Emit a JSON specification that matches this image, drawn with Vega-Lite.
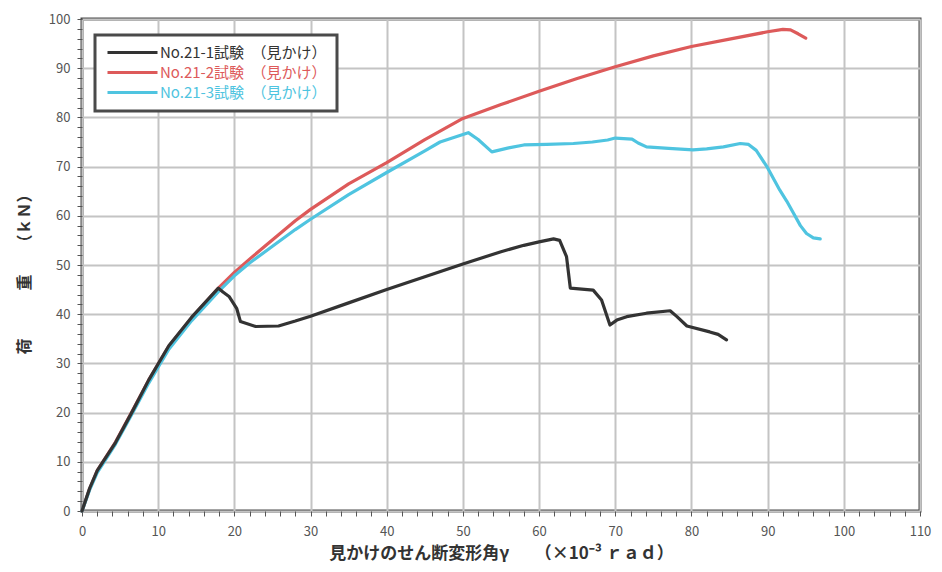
{
  "$schema": "https://vega.github.io/schema/vega-lite/v6.json",
  "width": 838,
  "height": 492,
  "autosize": {"type": "none"},
  "padding": {"left": 82, "top": 19, "right": 22, "bottom": 61},
  "background": "white",
  "config": {
    "font": "Noto Sans CJK JP",
    "view": {"stroke": "#4a4a4a", "strokeWidth": 3},
    "legend": {"strokeWidth": 3}
  },
  "data": {
    "values": [
      {"s": "No.21-2試験　（見かけ）", "x": 0, "y": 0},
      {"s": "No.21-2試験　（見かけ）", "x": 1, "y": 4.5},
      {"s": "No.21-2試験　（見かけ）", "x": 2, "y": 8.2},
      {"s": "No.21-2試験　（見かけ）", "x": 4.4, "y": 14},
      {"s": "No.21-2試験　（見かけ）", "x": 6.6, "y": 20.3},
      {"s": "No.21-2試験　（見かけ）", "x": 8.75, "y": 26.6},
      {"s": "No.21-2試験　（見かけ）", "x": 11.4, "y": 33.5},
      {"s": "No.21-2試験　（見かけ）", "x": 14.4, "y": 39.3},
      {"s": "No.21-2試験　（見かけ）", "x": 17.9, "y": 45.3},
      {"s": "No.21-2試験　（見かけ）", "x": 20, "y": 48.5},
      {"s": "No.21-2試験　（見かけ）", "x": 22, "y": 51.2},
      {"s": "No.21-2試験　（見かけ）", "x": 24, "y": 53.8},
      {"s": "No.21-2試験　（見かけ）", "x": 26, "y": 56.4},
      {"s": "No.21-2試験　（見かけ）", "x": 28, "y": 59},
      {"s": "No.21-2試験　（見かけ）", "x": 30, "y": 61.3},
      {"s": "No.21-2試験　（見かけ）", "x": 35, "y": 66.5},
      {"s": "No.21-2試験　（見かけ）", "x": 40, "y": 70.8},
      {"s": "No.21-2試験　（見かけ）", "x": 45, "y": 75.5},
      {"s": "No.21-2試験　（見かけ）", "x": 50, "y": 79.8},
      {"s": "No.21-2試験　（見かけ）", "x": 55, "y": 82.6},
      {"s": "No.21-2試験　（見かけ）", "x": 60, "y": 85.3},
      {"s": "No.21-2試験　（見かけ）", "x": 65, "y": 87.9},
      {"s": "No.21-2試験　（見かけ）", "x": 70, "y": 90.3},
      {"s": "No.21-2試験　（見かけ）", "x": 75, "y": 92.5},
      {"s": "No.21-2試験　（見かけ）", "x": 80, "y": 94.4},
      {"s": "No.21-2試験　（見かけ）", "x": 85, "y": 95.9},
      {"s": "No.21-2試験　（見かけ）", "x": 90, "y": 97.4},
      {"s": "No.21-2試験　（見かけ）", "x": 92, "y": 97.9},
      {"s": "No.21-2試験　（見かけ）", "x": 93, "y": 97.8},
      {"s": "No.21-2試験　（見かけ）", "x": 94, "y": 97},
      {"s": "No.21-2試験　（見かけ）", "x": 95, "y": 96.1},

      {"s": "No.21-3試験　（見かけ）", "x": 0, "y": 0},
      {"s": "No.21-3試験　（見かけ）", "x": 1, "y": 4.3},
      {"s": "No.21-3試験　（見かけ）", "x": 2, "y": 7.8},
      {"s": "No.21-3試験　（見かけ）", "x": 4.4, "y": 13.6},
      {"s": "No.21-3試験　（見かけ）", "x": 6.6, "y": 19.8},
      {"s": "No.21-3試験　（見かけ）", "x": 8.75, "y": 26},
      {"s": "No.21-3試験　（見かけ）", "x": 11.4, "y": 32.9},
      {"s": "No.21-3試験　（見かけ）", "x": 14.4, "y": 38.7},
      {"s": "No.21-3試験　（見かけ）", "x": 17.9, "y": 44.6},
      {"s": "No.21-3試験　（見かけ）", "x": 20, "y": 47.8},
      {"s": "No.21-3試験　（見かけ）", "x": 22, "y": 50.4},
      {"s": "No.21-3試験　（見かけ）", "x": 25, "y": 53.8},
      {"s": "No.21-3試験　（見かけ）", "x": 28, "y": 57.2},
      {"s": "No.21-3試験　（見かけ）", "x": 30, "y": 59.3},
      {"s": "No.21-3試験　（見かけ）", "x": 35, "y": 64.3},
      {"s": "No.21-3試験　（見かけ）", "x": 40, "y": 68.8},
      {"s": "No.21-3試験　（見かけ）", "x": 45, "y": 73.2},
      {"s": "No.21-3試験　（見かけ）", "x": 47, "y": 75},
      {"s": "No.21-3試験　（見かけ）", "x": 50.7, "y": 76.9},
      {"s": "No.21-3試験　（見かけ）", "x": 52, "y": 75.5},
      {"s": "No.21-3試験　（見かけ）", "x": 53.8, "y": 73},
      {"s": "No.21-3試験　（見かけ）", "x": 56, "y": 73.8},
      {"s": "No.21-3試験　（見かけ）", "x": 58, "y": 74.4},
      {"s": "No.21-3試験　（見かけ）", "x": 61, "y": 74.5},
      {"s": "No.21-3試験　（見かけ）", "x": 64.5, "y": 74.7},
      {"s": "No.21-3試験　（見かけ）", "x": 67, "y": 75},
      {"s": "No.21-3試験　（見かけ）", "x": 69, "y": 75.4},
      {"s": "No.21-3試験　（見かけ）", "x": 70, "y": 75.8},
      {"s": "No.21-3試験　（見かけ）", "x": 72.2, "y": 75.6},
      {"s": "No.21-3試験　（見かけ）", "x": 73, "y": 74.8},
      {"s": "No.21-3試験　（見かけ）", "x": 74.1, "y": 74},
      {"s": "No.21-3試験　（見かけ）", "x": 77, "y": 73.7},
      {"s": "No.21-3試験　（見かけ）", "x": 80.2, "y": 73.4},
      {"s": "No.21-3試験　（見かけ）", "x": 82, "y": 73.6},
      {"s": "No.21-3試験　（見かけ）", "x": 84.2, "y": 74},
      {"s": "No.21-3試験　（見かけ）", "x": 86.4, "y": 74.7},
      {"s": "No.21-3試験　（見かけ）", "x": 87.5, "y": 74.5},
      {"s": "No.21-3試験　（見かけ）", "x": 88.5, "y": 73.3},
      {"s": "No.21-3試験　（見かけ）", "x": 89.9, "y": 70},
      {"s": "No.21-3試験　（見かけ）", "x": 91.6, "y": 65.2},
      {"s": "No.21-3試験　（見かけ）", "x": 92.5, "y": 63},
      {"s": "No.21-3試験　（見かけ）", "x": 93.4, "y": 60.5},
      {"s": "No.21-3試験　（見かけ）", "x": 94.3, "y": 58},
      {"s": "No.21-3試験　（見かけ）", "x": 95.1, "y": 56.4},
      {"s": "No.21-3試験　（見かけ）", "x": 96, "y": 55.5},
      {"s": "No.21-3試験　（見かけ）", "x": 96.9, "y": 55.3},

      {"s": "No.21-1試験　（見かけ）", "x": 0, "y": 0},
      {"s": "No.21-1試験　（見かけ）", "x": 1, "y": 4.6},
      {"s": "No.21-1試験　（見かけ）", "x": 2, "y": 8.2},
      {"s": "No.21-1試験　（見かけ）", "x": 4.4, "y": 13.9},
      {"s": "No.21-1試験　（見かけ）", "x": 6.6, "y": 20.2},
      {"s": "No.21-1試験　（見かけ）", "x": 8.75, "y": 26.6},
      {"s": "No.21-1試験　（見かけ）", "x": 11.4, "y": 33.6},
      {"s": "No.21-1試験　（見かけ）", "x": 14.4, "y": 39.4},
      {"s": "No.21-1試験　（見かけ）", "x": 17.9, "y": 45.3},
      {"s": "No.21-1試験　（見かけ）", "x": 18.5, "y": 44.5},
      {"s": "No.21-1試験　（見かけ）", "x": 19.3, "y": 43.6},
      {"s": "No.21-1試験　（見かけ）", "x": 20.3, "y": 41.2},
      {"s": "No.21-1試験　（見かけ）", "x": 20.8, "y": 38.5},
      {"s": "No.21-1試験　（見かけ）", "x": 22.8, "y": 37.5},
      {"s": "No.21-1試験　（見かけ）", "x": 25.8, "y": 37.6},
      {"s": "No.21-1試験　（見かけ）", "x": 28, "y": 38.6},
      {"s": "No.21-1試験　（見かけ）", "x": 30, "y": 39.6},
      {"s": "No.21-1試験　（見かけ）", "x": 35, "y": 42.3},
      {"s": "No.21-1試験　（見かけ）", "x": 40, "y": 45},
      {"s": "No.21-1試験　（見かけ）", "x": 45, "y": 47.6},
      {"s": "No.21-1試験　（見かけ）", "x": 50, "y": 50.2},
      {"s": "No.21-1試験　（見かけ）", "x": 55, "y": 52.7},
      {"s": "No.21-1試験　（見かけ）", "x": 58, "y": 54},
      {"s": "No.21-1試験　（見かけ）", "x": 60, "y": 54.7},
      {"s": "No.21-1試験　（見かけ）", "x": 61.9, "y": 55.3},
      {"s": "No.21-1試験　（見かけ）", "x": 62.7, "y": 55},
      {"s": "No.21-1試験　（見かけ）", "x": 63.6, "y": 51.7},
      {"s": "No.21-1試験　（見かけ）", "x": 64.1, "y": 45.3},
      {"s": "No.21-1試験　（見かけ）", "x": 67.1, "y": 44.9},
      {"s": "No.21-1試験　（見かけ）", "x": 68.2, "y": 42.9},
      {"s": "No.21-1試験　（見かけ）", "x": 69.3, "y": 37.8},
      {"s": "No.21-1試験　（見かけ）", "x": 70.2, "y": 38.8},
      {"s": "No.21-1試験　（見かけ）", "x": 71.5, "y": 39.5},
      {"s": "No.21-1試験　（見かけ）", "x": 74.1, "y": 40.2},
      {"s": "No.21-1試験　（見かけ）", "x": 77.2, "y": 40.7},
      {"s": "No.21-1試験　（見かけ）", "x": 78.1, "y": 39.5},
      {"s": "No.21-1試験　（見かけ）", "x": 79.4, "y": 37.6},
      {"s": "No.21-1試験　（見かけ）", "x": 82.4, "y": 36.4},
      {"s": "No.21-1試験　（見かけ）", "x": 83.5, "y": 35.9},
      {"s": "No.21-1試験　（見かけ）", "x": 84.6, "y": 34.8}
    ]
  },
  "mark": {"type": "line", "strokeWidth": 3.2, "strokeJoin": "round", "strokeCap": "round"},
  "encoding": {
    "x": {
      "field": "x",
      "type": "quantitative",
      "scale": {"domain": [0, 110], "nice": false, "zero": false},
      "axis": {
        "values": [0,2,4,6,8,10,12,14,16,18,20,22,24,26,28,30,32,34,36,38,40,42,44,46,48,50,52,54,56,58,60,62,64,66,68,70,72,74,76,78,80,82,84,86,88,90,92,94,96,98,100,102,104,106,108,110],
        "labelExpr": "datum.value % 10 === 0 ? datum.label : ''",
        "labelOverlap": false,
        "labelFlush": false,
        "labelFontSize": 13,
        "labelColor": "#555555",
        "labelPadding": 9,
        "domain": false,
        "tickSize": 5,
        "tickColor": "#555555",
        "tickWidth": 1,
        "grid": true,
        "gridColor": "#c4c4c4",
        "gridWidth": 2,
        "gridOpacity": {"condition": {"test": "datum.value % 10 === 0", "value": 1}, "value": 0},
        "title": "見かけのせん断変形角γ　　（×10⁻³ ｒａｄ）",
        "titleFontSize": 17,
        "titleFontWeight": "bold",
        "titleColor": "#333333",
        "titleBaseline": "middle",
        "titleY": 42
      }
    },
    "y": {
      "field": "y",
      "type": "quantitative",
      "scale": {"domain": [0, 100], "nice": false, "zero": false},
      "axis": {
        "values": [0,2,4,6,8,10,12,14,16,18,20,22,24,26,28,30,32,34,36,38,40,42,44,46,48,50,52,54,56,58,60,62,64,66,68,70,72,74,76,78,80,82,84,86,88,90,92,94,96,98,100],
        "labelExpr": "datum.value % 10 === 0 ? datum.label : ''",
        "labelOverlap": false,
        "labelFlush": false,
        "labelFontSize": 13,
        "labelColor": "#555555",
        "labelPadding": 7,
        "domain": false,
        "tickSize": 5,
        "tickColor": "#555555",
        "tickWidth": 1,
        "grid": true,
        "gridColor": "#c4c4c4",
        "gridWidth": 2,
        "gridOpacity": {"condition": {"test": "datum.value % 10 === 0", "value": 1}, "value": 0},
        "title": "荷　　　重　　（ｋＮ）",
        "titleFontSize": 16,
        "titleFontWeight": "bold",
        "titleColor": "#333333",
        "titleAngle": -90,
        "titleBaseline": "middle",
        "titleX": -58,
        "titleY": 251
      }
    },
    "color": {
      "field": "s",
      "type": "nominal",
      "scale": {
        "domain": ["No.21-1試験　（見かけ）", "No.21-2試験　（見かけ）", "No.21-3試験　（見かけ）"],
        "range": ["#333333", "#dd5a5a", "#4fc4e0"]
      },
      "legend": {
        "title": null,
        "orient": "none",
        "legendX": 13,
        "legendY": 16,
        "direction": "vertical",
        "symbolType": "M-5,0H5",
        "symbolSize": 100,
        "symbolOffset": 20,
        "symbolStrokeWidth": 3,
        "labelOffset": 20,
        "labelFontSize": 15,
        "labelLimit": 400,
        "labelColor": {"expr": "scale('color', datum.value)"},
        "rowPadding": 4,
        "padding": 10,
        "strokeColor": "#4a4a4a",
        "fillColor": "white"
      }
    }
  }
}
